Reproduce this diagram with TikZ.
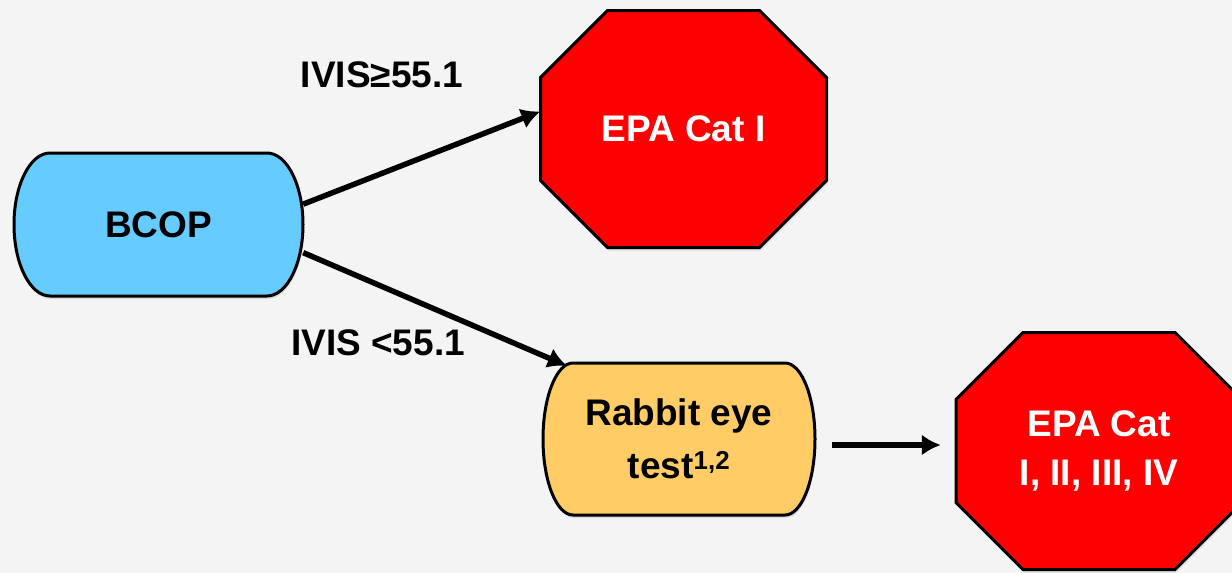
\documentclass[tikz,border=0pt]{standalone}
\usepackage{fontspec}
\setmainfont{Liberation Sans}
\usetikzlibrary{arrows.meta,shadows}
\definecolor{bggray}{HTML}{F4F4F4}
\definecolor{bcopblue}{HTML}{66CCFF}
\definecolor{rabbitorange}{HTML}{FFCC66}
\definecolor{catred}{HTML}{FF0000}
\tikzset{
  bigfont/.style={font=\fontsize{37}{49}\selectfont\bfseries},
  softshadow/.style={drop shadow={shadow xshift=1pt,shadow yshift=-3pt,opacity=0.2}},
  outline/.style={draw,line width=3pt,softshadow},
  testbox/.style={inner sep=0pt,bigfont,align=center},
  catbox/.style={minimum width=286pt,minimum height=237pt,inner sep=0pt,bigfont,text=white,align=center},
  arr/.style={-{Latex[length=19pt,width=21pt]},line width=5.5pt}
}
\begin{document}
\begin{tikzpicture}[x=1pt,y=-1pt]
				\useasboundingbox (0,0) rectangle (1232,573);
				\fill[bggray] (0,0) rectangle (1232,573);
				\path (158.5,224.5) coordinate (c0)
				(683.5,129) coordinate (c1)
				(679,439) coordinate (c3)
				(1099,451) coordinate (c2);
				% test boxes with flat elliptic ends
				\foreach \c/\w/\h/\a/\col in {c0/289/143/36/bcopblue,c3/272/152/30/rabbitorange}
				\draw[outline,fill=\col] (\c) ++({-\w/2+\a},{-\h/2}) -- ++({\w-2*\a},0)
				arc[start angle=-90,end angle=90,x radius=\a,y radius=\h/2]
				-- ++({-\w+2*\a},0)
				arc[start angle=90,end angle=270,x radius=\a,y radius=\h/2] -- cycle;
				% octagons
				\foreach \c in {c1,c2}
				\draw[outline,fill=catred] (\c) ++(-143,-51.5) -- ++(0,103) -- ++(67,67)
				-- ++(152,0) -- ++(67,-67) -- ++(0,-103) -- ++(-67,-67)
				-- ++(-152,0) -- cycle;
				\node[testbox,minimum width=289pt,minimum height=143pt] (bcop) at (c0) {BCOP};
				\node[testbox,minimum width=272pt,minimum height=152pt,
				font=\fontsize{37}{53}\selectfont\bfseries]
				(rab) at (c3) {Rabbit eye\\test\textsuperscript{1,2}};
				\node[catbox] (epa1) at (c1) {EPA Cat I};
				\node[catbox] (epa2) at (c2) {EPA Cat\\I, II, III, IV};
				\node[bigfont] (hi) at (382,75) {IVIS≥55.1};
				\node[bigfont] (lo) at (378,343) {IVIS <55.1};
				\draw[arr] (bcop.8) -- (epa1.173);
				\draw[arr] (bcop.-11) -- ([xshift=24pt,yshift=-3pt]rab.north west);
				\draw[arr] ([xshift=17pt,yshift=-6pt]rab.east) -- ([xshift=-15pt,yshift=6pt]epa2.west);
			\end{tikzpicture}
\end{document}
